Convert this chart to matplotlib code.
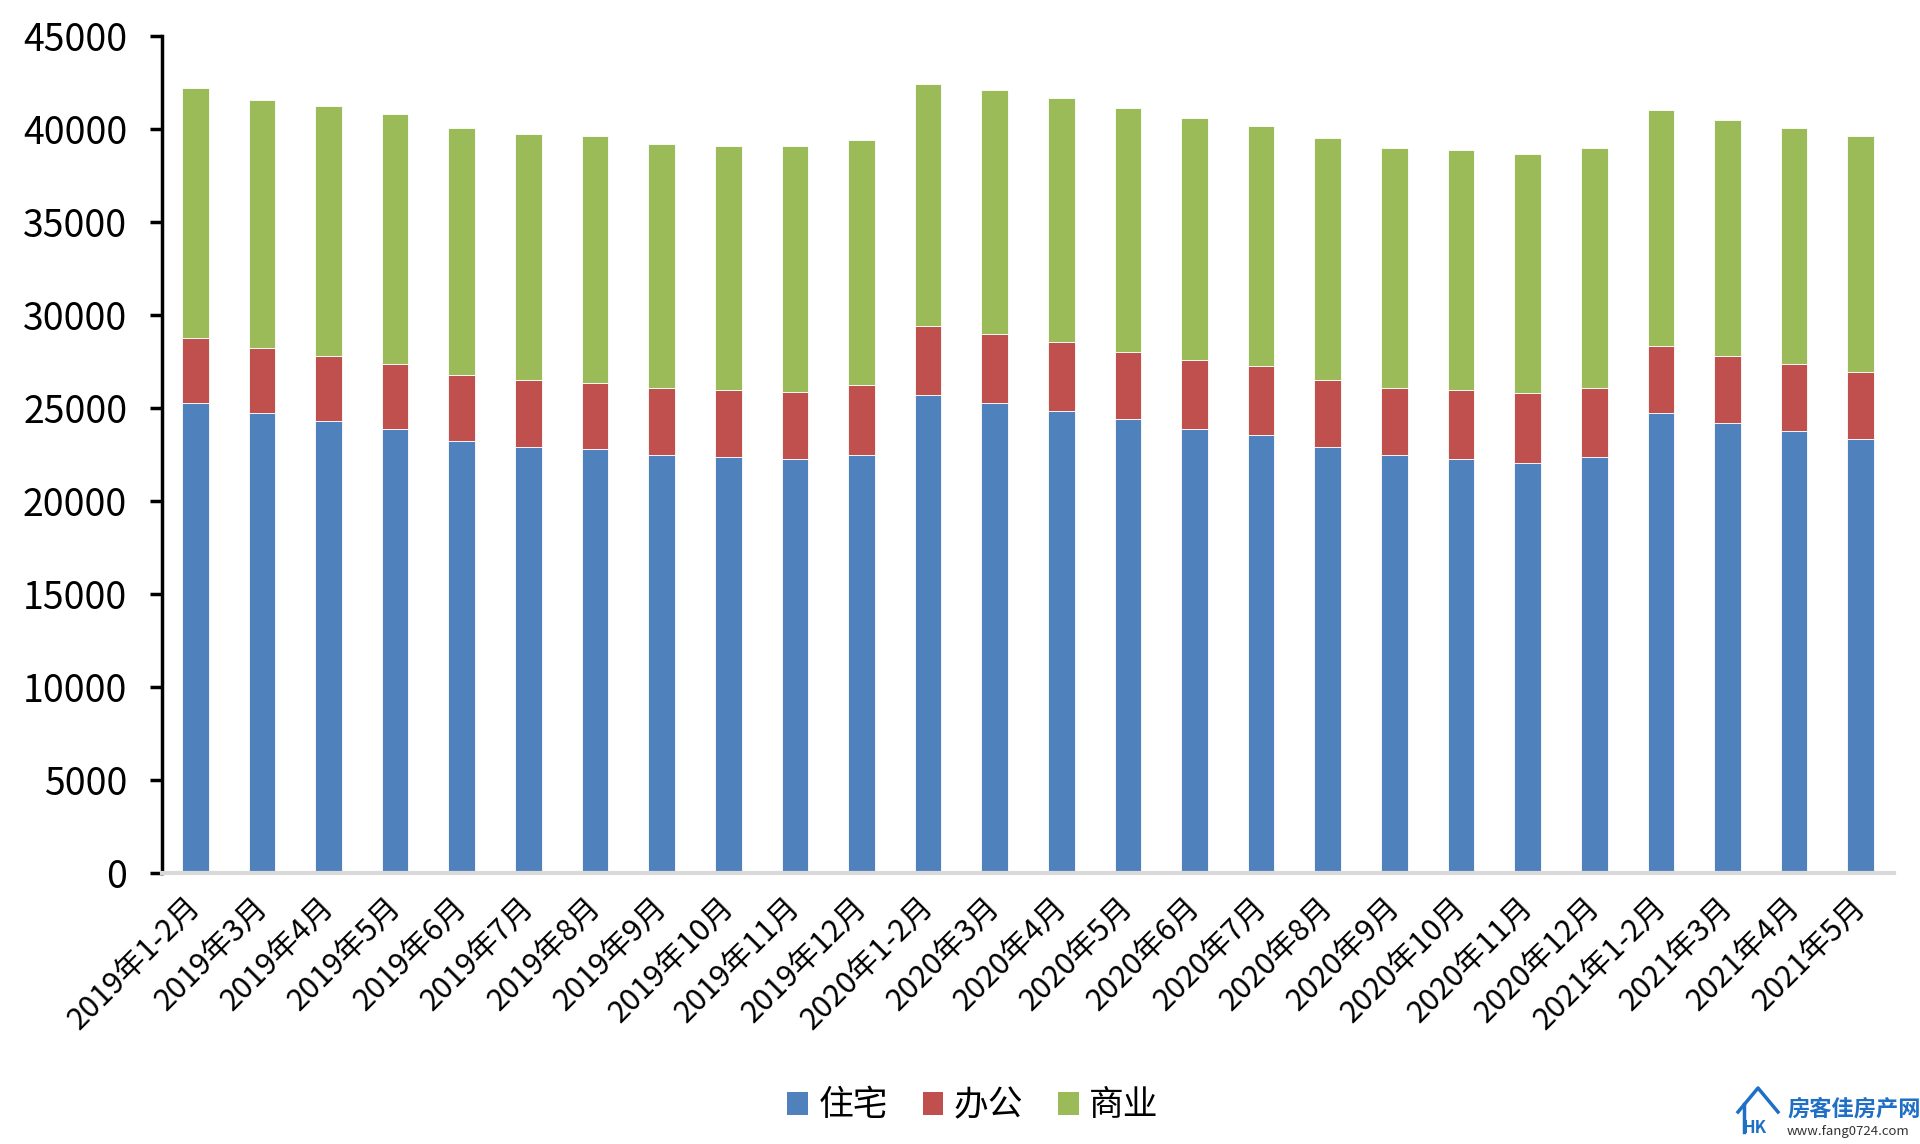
import matplotlib
matplotlib.use("Agg")
import matplotlib.pyplot as plt
import numpy as np
from matplotlib.patches import Patch
from matplotlib.lines import Line2D
from matplotlib.transforms import ScaledTranslation

plt.rcParams['font.family'] = ['Noto Sans CJK SC', 'DejaVu Sans']

categories = ["2019年1-2月", "2019年3月", "2019年4月", "2019年5月", "2019年6月", "2019年7月",
              "2019年8月", "2019年9月", "2019年10月", "2019年11月", "2019年12月",
              "2020年1-2月", "2020年3月", "2020年4月", "2020年5月", "2020年6月", "2020年7月",
              "2020年8月", "2020年9月", "2020年10月", "2020年11月", "2020年12月",
              "2021年1-2月", "2021年3月", "2021年4月", "2021年5月"]

residential = [25260, 24720, 24290, 23860, 23220, 22900, 22790, 22470, 22360, 22250, 22470,
               25690, 25260, 24830, 24400, 23860, 23540, 22900, 22470, 22250, 22040, 22360,
               24720, 24180, 23750, 23320]
office = [3530, 3530, 3530, 3530, 3530, 3630, 3530, 3630, 3630, 3630, 3740,
          3740, 3740, 3740, 3630, 3740, 3740, 3630, 3630, 3740, 3740, 3740,
          3630, 3630, 3630, 3630]
commercial = [13420, 13330, 13420, 13420, 13310, 13200, 13310, 13100, 13110, 13220, 13220,
              13010, 13110, 13110, 13110, 13010, 12900, 13010, 12900, 12900, 12900, 12900,
              12680, 12680, 12680, 12680]

series_names = ["住宅", "办公", "商业"]
colors = ["#4f81bd", "#c0504d", "#9bbb59"]
yticks = [0, 5000, 10000, 15000, 20000, 25000, 30000, 35000, 40000, 45000]

W, H = 1920, 1144
fig = plt.figure(figsize=(W / 100, H / 100), dpi=100)
ax = fig.add_axes([162 / W, 1 - 873 / H, (1894 - 162) / W, (873 - 36) / H])

x = np.arange(len(categories))
res = np.array(residential)
off = np.array(office)
com = np.array(commercial)
ax.bar(x, res, width=0.4, color=colors[0], edgecolor="white", linewidth=0.6, zorder=2)
ax.bar(x, off, width=0.4, bottom=res, color=colors[1], edgecolor="white", linewidth=0.6, zorder=2)
ax.bar(x, com, width=0.4, bottom=res + off, color=colors[2], edgecolor="white", linewidth=0.6, zorder=2)

ax.set_xlim(-0.5, len(categories) - 0.5)
ax.set_ylim(0, 45000)
ax.set_yticks(yticks)
ax.set_yticklabels([str(v) for v in yticks], fontsize=27, color="black", fontweight="light")
ax.tick_params(axis="y", direction="out", length=9, width=2.5, pad=16, color="black")

ax.set_xticks(x)
ax.set_xticklabels(categories, fontsize=22, rotation=45, ha="right", va="top",
                   rotation_mode="anchor", fontweight="light")
ax.tick_params(axis="x", length=0, pad=13)
offset = ScaledTranslation(-0.10, 0, fig.dpi_scale_trans)
for lab in ax.get_xticklabels():
    lab.set_transform(lab.get_transform() + offset)

for s in ["top", "right"]:
    ax.spines[s].set_visible(False)
ax.spines["left"].set_linewidth(2.5)
ax.spines["left"].set_color("black")
ax.spines["bottom"].set_linewidth(3)
ax.spines["bottom"].set_color("#d9d9d9")

handles = [Patch(facecolor=c, edgecolor="none") for c in colors]
fig.legend(handles, series_names, loc="center", bbox_to_anchor=(973 / W, 1 - 1106 / H),
           ncol=3, frameon=False, prop={"size": 25, "weight": "light"},
           handlelength=0.6, handleheight=0.65, handletextpad=0.3, columnspacing=1.0)

# watermark
wm = "#1f6fc5"
fig.add_artist(Line2D([1738 / W, 1758 / W, 1778 / W], [1 - 1112 / H, 1 - 1088 / H, 1 - 1112 / H],
                      color=wm, lw=2.5))
fig.add_artist(Line2D([1744 / W, 1744 / W], [1 - 1104 / H, 1 - 1132 / H], color=wm, lw=2.5))
fig.text(1742 / W, 1 - 1128 / H, "HK", color=wm, fontsize=12, fontweight="bold", va="center")
fig.text(1787 / W, 1 - 1109 / H, "房客佳房产网", color=wm, fontsize=16, fontweight="bold", va="center")
fig.text(1787 / W, 1 - 1131 / H, "www.fang0724.com", color="#333333", fontsize=9.5, va="center")

fig.savefig("out.png", dpi=100)
